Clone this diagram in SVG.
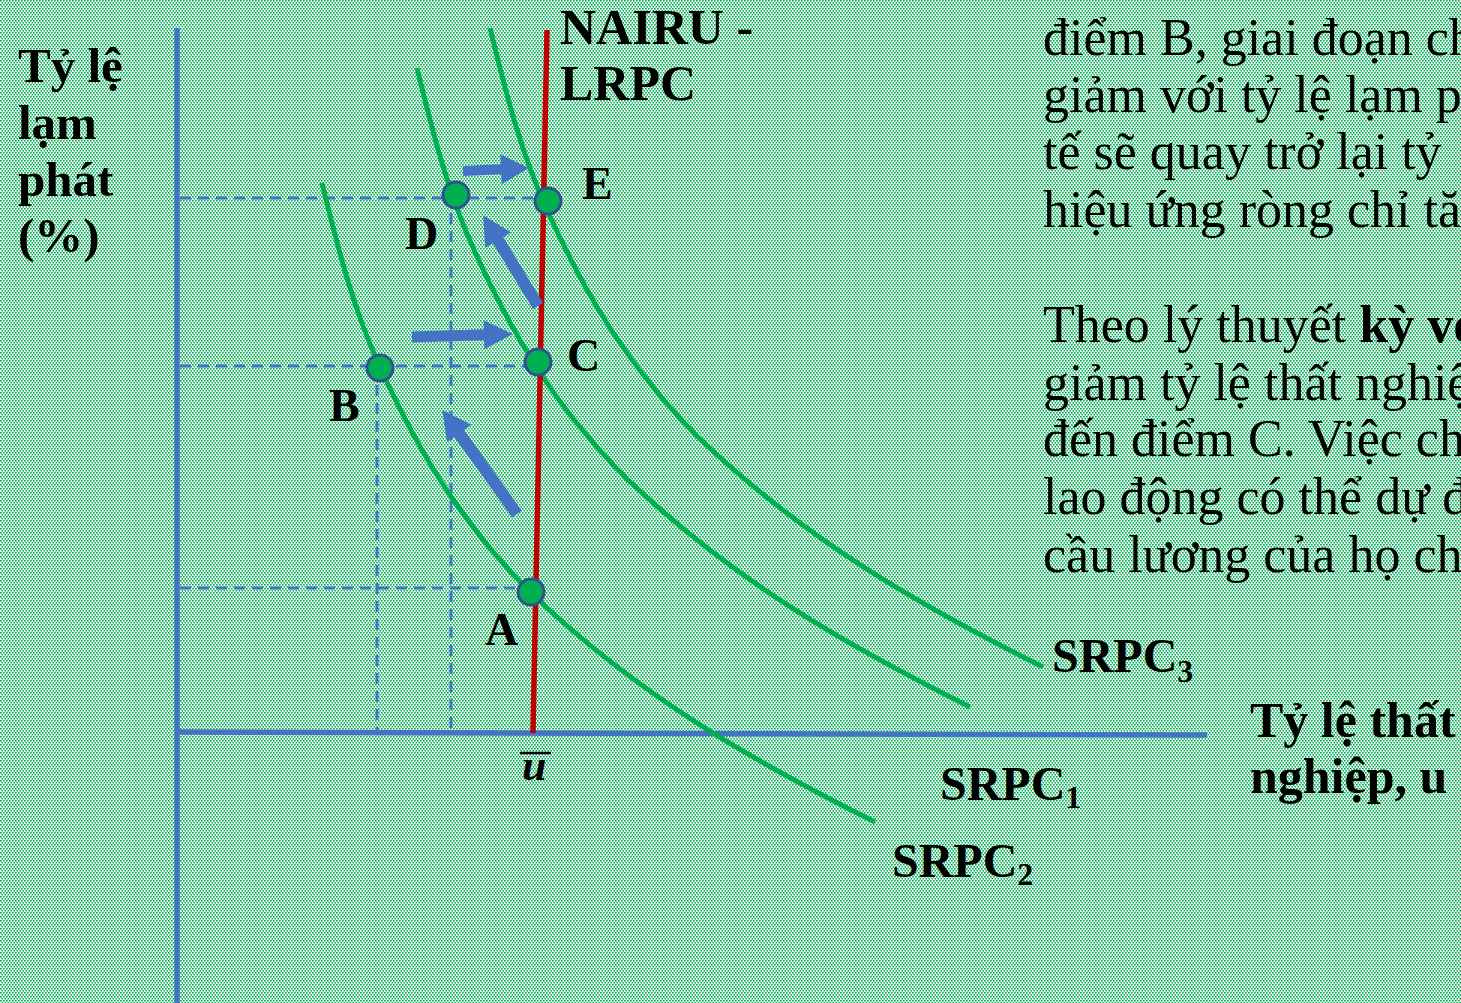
<svg xmlns="http://www.w3.org/2000/svg" width="1461" height="1003" viewBox="0 0 1461 1003">
<defs>
<pattern id="bg" width="3" height="4" patternUnits="userSpaceOnUse">
<rect width="3" height="4" fill="#ffffff"/>
<rect x="0" y="0" width="1.7" height="1.6" fill="#00B050"/>
<rect x="1.5" y="2" width="1.7" height="1.6" fill="#00B050"/>
</pattern>
<path id="srpc" d="M322,183 C337,244 352,306 380,367 C414,442 456,518 531,593 C641,698 755,762 875,822"/>
</defs>
<style>
.lbl{font-family:"Liberation Serif","Times New Roman",serif;font-weight:bold;fill:#000;}
.body{font-family:"Liberation Serif","Times New Roman",serif;font-size:52px;fill:#000;}
.axis{stroke:#4472C4;stroke-width:5.5;fill:none;}
.dash{stroke:#4472C4;stroke-width:3;stroke-dasharray:11 7;fill:none;}
.curve{stroke:#00B050;stroke-width:5;fill:none;}
.pt{fill:#00B050;stroke:#2F528F;stroke-width:3;}
.barrow{fill:#4472C4;}
</style>
<rect width="1461" height="1003" fill="url(#bg)"/>

<g id="axes">
<line class="axis" x1="177" y1="28" x2="177" y2="1003"/>
<line class="axis" x1="177" y1="732" x2="1207" y2="735"/>
</g>

<g id="guides">
<line class="dash" x1="180" y1="198" x2="547" y2="198"/>
<line class="dash" x1="180" y1="366" x2="538" y2="366"/>
<line class="dash" x1="180" y1="588" x2="531" y2="588"/>
<line class="dash" x1="377" y1="367" x2="377" y2="730"/>
<line class="dash" x1="451" y1="195" x2="451" y2="730"/>
</g>

<g id="connectors">
<use href="#srpc" class="curve"/>
<use href="#srpc" class="curve" transform="translate(95,-115)"/>
<use href="#srpc" class="curve" transform="translate(168,-155)"/>
<line x1="547" y1="30" x2="533" y2="733" stroke="#C00000" stroke-width="5.5"/>
<polygon class="barrow" transform="translate(463,171) rotate(-2.6)" points="0,-5 38,-5 38,-15 66,0 38,15 38,5 0,5"/>
<polygon class="barrow" transform="translate(412,337) rotate(-1.7)" points="0,-5.5 72,-5.5 72,-14.5 101,0 72,14.5 72,5.5 0,5.5"/>
<polygon class="barrow" transform="translate(517,514) rotate(-125.7)" points="0,-6 99,-6 99,-15 128,0 99,15 99,6 0,6"/>
<polygon class="barrow" transform="translate(538,306) rotate(-121.2)" points="0,-6 77,-6 77,-15 106,0 77,15 77,6 0,6"/>
</g>

<g id="node-E"><circle class="pt" cx="548" cy="201" r="13"/><text class="lbl" x="582" y="199" font-size="46">E</text></g>
<g id="node-D"><circle class="pt" cx="456" cy="195" r="13"/><text class="lbl" x="405" y="249" font-size="46">D</text></g>
<g id="node-C"><circle class="pt" cx="538" cy="362" r="13"/><text class="lbl" x="567" y="371" font-size="46">C</text></g>
<g id="node-B"><circle class="pt" cx="380" cy="368" r="13"/><text class="lbl" x="329" y="421" font-size="46">B</text></g>
<g id="node-A"><circle class="pt" cx="531" cy="592" r="13"/><text class="lbl" x="485" y="645" font-size="46">A</text></g>

<g id="label-y-axis">
<text class="lbl" font-size="49"><tspan x="18" y="82">Tỷ lệ</tspan><tspan x="18" y="139">lạm</tspan><tspan x="18" y="196">phát</tspan><tspan x="18" y="252">(%)</tspan></text>
</g>
<g id="label-nairu">
<text class="lbl" font-size="50"><tspan x="560" y="44">NAIRU -</tspan><tspan x="560" y="100">LRPC</tspan></text>
</g>
<g id="label-ubar">
<text class="lbl" x="522" y="780" font-size="44" font-style="italic">u</text>
<line x1="520" y1="753" x2="551" y2="753" stroke="#000" stroke-width="2.5"/>
</g>
<g id="label-srpc3"><text class="lbl" x="1052" y="672" font-size="48">SRPC<tspan font-size="32" dy="10">3</tspan></text></g>
<g id="label-srpc1"><text class="lbl" x="940" y="800" font-size="48">SRPC<tspan font-size="32" dy="8">1</tspan></text></g>
<g id="label-srpc2"><text class="lbl" x="892" y="877" font-size="48">SRPC<tspan font-size="32" dy="8">2</tspan></text></g>
<g id="label-x-axis">
<text class="lbl" font-size="50"><tspan x="1250" y="737">Tỷ lệ thất</tspan><tspan x="1250" y="793">nghiệp, u</tspan></text>
</g>

<g id="explanation">
<text class="body"><tspan x="1043" y="55">điểm B, giai đoạn ch</tspan><tspan x="1043" y="112">giảm với tỷ lệ lạm p</tspan><tspan x="1043" y="169">tế sẽ quay trở lại tỷ</tspan><tspan x="1043" y="227">hiệu ứng ròng chỉ tă</tspan></text>
<text class="body"><tspan x="1043" y="342">Theo lý thuyết <tspan font-weight="bold">kỳ vọ</tspan></tspan><tspan x="1043" y="400">giảm tỷ lệ thất nghiệ</tspan><tspan x="1043" y="456">đến điểm C. Việc ch</tspan><tspan x="1043" y="514">lao động có thể dự đ</tspan><tspan x="1043" y="572">cầu lương của họ ch</tspan></text>
</g>
</svg>
